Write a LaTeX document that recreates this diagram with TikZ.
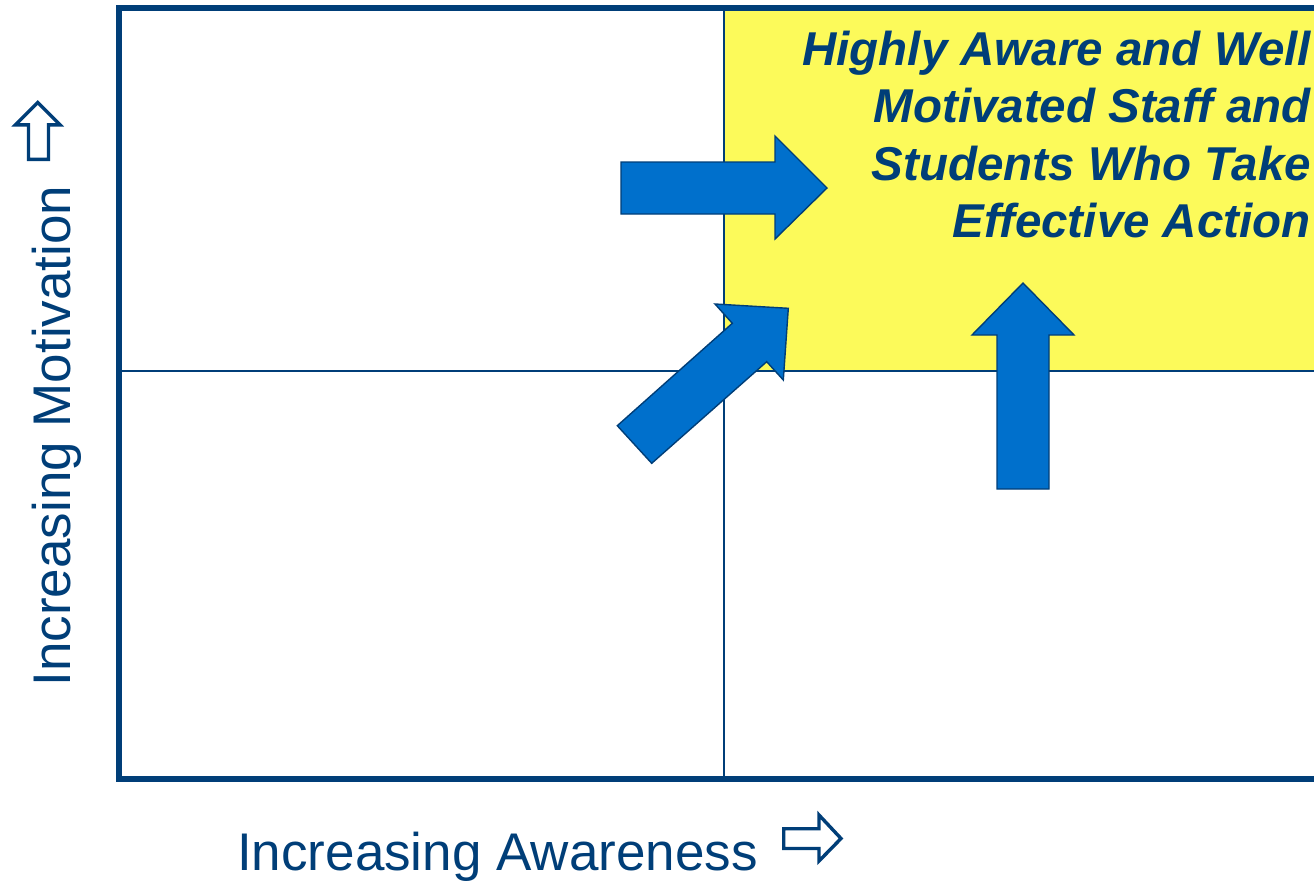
\documentclass[tikz,border=0pt]{standalone}
\usepackage{fontspec}
\setmainfont{Liberation Sans}
\definecolor{navy}{RGB}{0,62,120}
\definecolor{quadyellow}{RGB}{252,250,90}
\definecolor{arrowblue}{RGB}{0,112,204}
\begin{document}
\begin{tikzpicture}[x=1pt,y=-1pt,
  frame/.style={draw=navy,line width=6pt},
  divider/.style={draw=navy,line width=1.8pt},
  bigarrow/.style={fill=arrowblue,draw=navy,line width=1.4pt,line join=miter},
  axisarrow/.style={fill=white,draw=navy,line width=3.4pt,line join=miter},
  axislabel/.style={text=navy,font=\fontsize{53}{60}\selectfont,inner sep=0pt},
  goal/.style={text=navy,font=\fontsize{47.5}{57}\selectfont\bfseries\itshape,inner sep=0pt,anchor=base east}]
\useasboundingbox (0,0) rectangle (1314,881);
\clip (0,0) rectangle (1314,881);

% target quadrant
\fill[quadyellow] (724,7) rectangle (1330,371);

% quadrant dividers
\draw[divider] (724,7) -- (724,778);
\draw[divider] (118,371) -- (1330,371);

% outer frame (open on the right)
\draw[frame] (1330,7.5) -- (118.5,7.5) -- (118.5,778.5) -- (1330,778.5);

% block arrows heading into the target quadrant
\draw[bigarrow] (621,162) -- (775,162) -- (775,136) -- (827,188) -- (775,239) -- (775,214) -- (621,214) -- cycle;
\draw[bigarrow] (997,489) -- (997,335) -- (972,335) -- (1023,283) -- (1074,335) -- (1049,335) -- (1049,489) -- cycle;
\draw[bigarrow] (651.7,463.3) -- (766.7,361.7) -- (783.3,380) -- (788.3,308.3) -- (715,304) -- (732.3,323.3) -- (617.3,425.7) -- cycle;

% goal text
\node[goal] (g1) at (1311,65) {Highly Aware and Well};
\node[goal] (g2) at (1311,122.5) {Motivated Staff and};
\node[goal] (g3) at (1311,180) {Students Who Take};
\node[goal] (g4) at (1311,237.5) {Effective Action};

% axis labels
\node[axislabel,rotate=90,anchor=base] (ylab) at (70,436) {Increasing Motivation};
\node[axislabel,anchor=base west] (xlab) at (237,870) {Increasing Awareness};

% outlined axis arrows
\draw[axisarrow] (28.5,159.3) -- (28.5,124.8) -- (15.5,124.8) -- (37.7,102.5) -- (60,124.8) -- (48.5,124.8) -- (48.5,159.3) -- cycle;
\draw[axisarrow] (783.7,828.7) -- (819,828.7) -- (819,815) -- (841,838.5) -- (819,861) -- (819,848.5) -- (783.7,848.5) -- cycle;
\end{tikzpicture}
\end{document}
